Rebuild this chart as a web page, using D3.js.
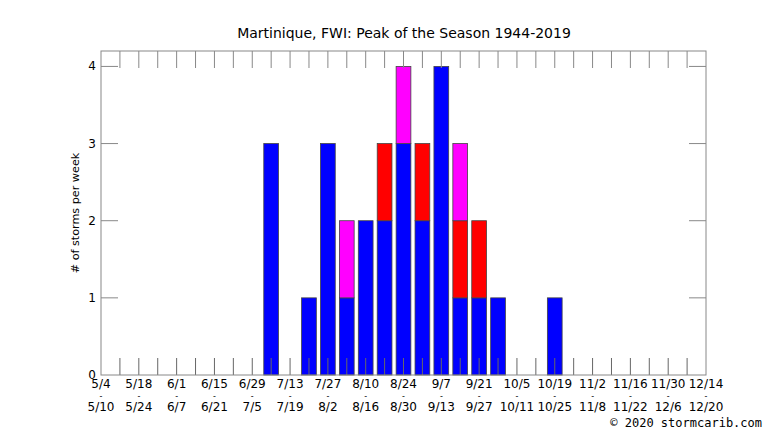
<!DOCTYPE html>
<html>
<head>
<meta charset="utf-8">
<script src="https://cdn.jsdelivr.net/npm/d3@7"></script>
<style>
  body { margin: 0; background: #fff; }
  svg { display: block; }
</style>
</head>
<body>
<div id="chart"></div>
<script>
// week labels every two weeks (start - end)
var tickStarts = ['5/4', '5/18', '6/1', '6/15', '6/29', '7/13', '7/27', '8/10', '8/24',
  '9/7', '9/21', '10/5', '10/19', '11/2', '11/16', '11/30', '12/14'];
var tickEnds = ['5/10', '5/24', '6/7', '6/21', '7/5', '7/19', '8/2', '8/16', '8/30',
  '9/13', '9/27', '10/11', '10/25', '11/8', '11/22', '12/6', '12/20'];

// storms per week, week 0 = 5/4
var blueCounts =    [0,0,0,0,0,0,0,0,0,3,0,1,3,1,2,2,3,2,4,1,1,1,0,0,1,0,0,0,0,0,0,0,0];
var redCounts =     [0,0,0,0,0,0,0,0,0,0,0,0,0,0,0,1,0,1,0,1,1,0,0,0,0,0,0,0,0,0,0,0,0];
var magentaCounts = [0,0,0,0,0,0,0,0,0,0,0,0,0,1,0,0,1,0,0,1,0,0,0,0,0,0,0,0,0,0,0,0,0];

var yTicks = [0, 1, 2, 3, 4];

var w = 766;
var h = 431;
var mLeft = 101, mRight = 706, mTop = 51, mBottom = 375;
var tickLen = 17;

var svg = d3.select('#chart')
  .append('svg')
  .attr('width', w)
  .attr('height', h)
  .style('font-family', 'DejaVu Sans, sans-serif');

var x = d3.scaleLinear().domain([0, 32]).range([mLeft, mRight]);
var y = d3.scaleLinear().domain([0, 4.2]).range([mBottom, mTop]);

// stack the three series, blue at the bottom
var rows = blueCounts.map(function (d, i) {
  return { week: i, blue: d, red: redCounts[i], magenta: magentaCounts[i] };
});
var stack = d3.stack().keys(['blue', 'red', 'magenta']);
var colors = { blue: '#0000ff', red: '#ff0000', magenta: '#ff00ff' };
var half = 0.39;

stack(rows).forEach(function (layer) {
  svg.selectAll('.bar-' + layer.key)
    .data(layer.filter(function (d) { return d[1] > d[0]; }))
    .enter()
    .append('rect')
    .attr('class', 'bar-' + layer.key)
    .attr('x', function (d) { return x(d.data.week - half); })
    .attr('width', function (d) { return x(half * 2) - x(0); })
    .attr('y', function (d) { return y(d[1]); })
    .attr('height', function (d) { return y(d[0]) - y(d[1]); })
    .attr('fill', colors[layer.key])
    .attr('stroke', '#444')
    .attr('stroke-width', 0.8);
});

// weekly tick marks, top and bottom
var weeks = d3.range(1, 32);
svg.selectAll('.xtick-b')
  .data(weeks)
  .enter()
  .append('line')
  .attr('x1', function (d) { return x(d); })
  .attr('x2', function (d) { return x(d); })
  .attr('y1', mBottom)
  .attr('y2', mBottom - tickLen)
  .attr('stroke', '#666')
  .attr('stroke-width', 1);

svg.selectAll('.xtick-t')
  .data(weeks)
  .enter()
  .append('line')
  .attr('x1', function (d) { return x(d); })
  .attr('x2', function (d) { return x(d); })
  .attr('y1', mTop)
  .attr('y2', mTop + tickLen)
  .attr('stroke', '#888')
  .attr('stroke-width', 1);

// y ticks left and right
svg.selectAll('.ytick-l')
  .data(yTicks.slice(1))
  .enter()
  .append('line')
  .attr('x1', mLeft)
  .attr('x2', mLeft + tickLen)
  .attr('y1', function (d) { return y(d); })
  .attr('y2', function (d) { return y(d); })
  .attr('stroke', '#888');

svg.selectAll('.ytick-r')
  .data(yTicks.slice(1))
  .enter()
  .append('line')
  .attr('x1', mRight)
  .attr('x2', mRight - tickLen)
  .attr('y1', function (d) { return y(d); })
  .attr('y2', function (d) { return y(d); })
  .attr('stroke', '#888');

// border
svg.append('rect')
  .attr('x', mLeft)
  .attr('y', mTop)
  .attr('width', mRight - mLeft)
  .attr('height', mBottom - mTop)
  .attr('fill', 'none')
  .attr('stroke', '#888')
  .attr('stroke-width', 1);

// y labels
svg.selectAll('.ylabel')
  .data(yTicks)
  .enter()
  .append('text')
  .text(function (d) { return d; })
  .attr('x', mLeft - 5)
  .attr('y', function (d) { return y(d) + 4; })
  .attr('text-anchor', 'end')
  .attr('font-size', '12px')
  .attr('fill', '#000');

// x labels: start, dash, end
var xl = svg.selectAll('.xlabel')
  .data(tickStarts)
  .enter()
  .append('g')
  .attr('transform', function (d, i) { return 'translate(' + x(i * 2) + ',0)'; });

xl.append('text')
  .text(function (d) { return d; })
  .attr('y', mBottom + 13)
  .attr('text-anchor', 'middle')
  .attr('font-size', '12px');

// small dash between the two dates
xl.append('text')
  .text('-')
  .attr('y', mBottom + 23.5)
  .attr('text-anchor', 'middle')
  .attr('font-size', '8px');

xl.append('text')
  .text(function (d, i) { return tickEnds[i]; })
  .attr('y', mBottom + 36)
  .attr('text-anchor', 'middle')
  .attr('font-size', '12px');

// title
svg.append('text')
  .text('Martinique, FWI: Peak of the Season 1944-2019')
  .attr('x', 404)
  .attr('y', 38)
  .attr('text-anchor', 'middle')
  .attr('font-size', '14px');

// y axis title
svg.append('text')
  .text('# of storms per week')
  .attr('transform', 'translate(79,213) rotate(-90)')
  .attr('text-anchor', 'middle')
  .attr('font-size', '11.2px');

// credit
svg.append('text')
  .text('\u00a9 2020 stormcarib.com')
  .attr('x', 762)
  .attr('y', 427)
  .attr('text-anchor', 'end')
  .attr('font-family', 'DejaVu Sans Mono, monospace')
  .attr('font-size', '12px');
</script>
</body>
</html>
